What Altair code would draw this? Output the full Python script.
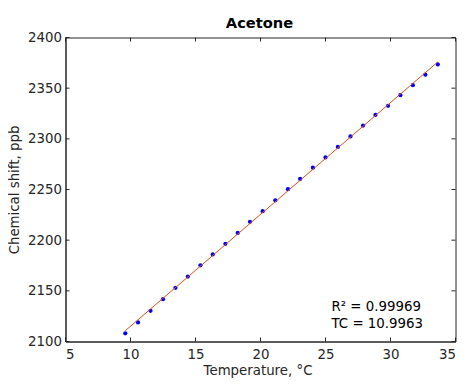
import altair as alt
import pandas as pd

temperature = [9.60, 10.58, 11.54, 12.50, 13.46, 14.41, 15.38, 16.33, 17.30, 18.25,
               19.19, 20.17, 21.14, 22.11, 23.05, 24.03, 25.00, 25.95, 26.92, 27.89,
               28.84, 29.81, 30.76, 31.72, 32.68, 33.64]
shift = [2108.1, 2118.8, 2130.3, 2141.7, 2153.0, 2164.1, 2175.2, 2185.9, 2196.4, 2207.1,
         2218.1, 2228.6, 2239.3, 2250.3, 2260.4, 2271.5, 2281.6, 2292.0, 2302.4, 2313.1,
         2323.6, 2332.6, 2343.1, 2352.9, 2363.3, 2373.4]
x_ticks = [5, 10, 15, 20, 25, 30, 35]
y_ticks = [2100, 2150, 2200, 2250, 2300, 2350, 2400]
title_text = "Acetone"
r2_text = "R² = 0.99969"
tc_text = "TC = 10.9963"

W, H = 390, 304
FONT = "DejaVu Sans"
INK = "#262626"

df = pd.DataFrame({"T": temperature, "shift": shift})
xt = pd.DataFrame({"v": x_ticks})
yt = pd.DataFrame({"v": y_ticks})

xs = alt.Scale(domain=[5, 35], nice=False, zero=False)
ys = alt.Scale(domain=[2100, 2400], nice=False, zero=False)

base = alt.Chart(df)

points = base.mark_circle(size=18, color="#0000FF", opacity=1).encode(
    x=alt.X("T:Q", scale=xs, axis=alt.Axis(
        title="Temperature, °C", values=x_ticks, ticks=False, grid=False, format="d",
        labelPadding=6, titleBaseline="alphabetic", titleY=32.5, titleX=W / 2 - 3)),
    y=alt.Y("shift:Q", scale=ys, axis=alt.Axis(
        title="Chemical shift, ppb", values=y_ticks, ticks=False, grid=False, format="d",
        labelPadding=4, titleBaseline="alphabetic", titleX=-47.5, titleY=H / 2,
        titleAngle=-90)),
)

fit = base.transform_regression("T", "shift").mark_line(
    color="#D95319", strokeWidth=1).encode(
    x=alt.X("T:Q", scale=xs), y=alt.Y("shift:Q", scale=ys))

tick_len = 4
bx = alt.Chart(xt).mark_rule(color=INK, strokeWidth=1).encode(
    x=alt.X("v:Q", scale=xs), y=alt.value(H), y2=alt.value(H - tick_len))
tx = alt.Chart(xt).mark_rule(color=INK, strokeWidth=1).encode(
    x=alt.X("v:Q", scale=xs), y=alt.value(0), y2=alt.value(tick_len))
ly = alt.Chart(yt).mark_rule(color=INK, strokeWidth=1).encode(
    y=alt.Y("v:Q", scale=ys), x=alt.value(0), x2=alt.value(tick_len))
ry = alt.Chart(yt).mark_rule(color=INK, strokeWidth=1).encode(
    y=alt.Y("v:Q", scale=ys), x=alt.value(W), x2=alt.value(W - tick_len))

def note(txt, xpix, ypix, size=13.33, weight="normal", align="left"):
    return alt.Chart(pd.DataFrame({"label": [txt]})).mark_text(
        align=align, baseline="alphabetic", font=FONT, fontSize=size,
        fontWeight=weight, color="#000000"
    ).encode(text="label:N", x=alt.value(xpix), y=alt.value(ypix))

ann1 = note(r2_text, 266, 273)
ann2 = note(tc_text, 266, 290)
ttl = note(title_text, W / 2 - 1, -9.2, size=14.67, weight="bold", align="center")

chart = alt.layer(points, fit, bx, tx, ly, ry, ann1, ann2, ttl).properties(
    width=W, height=H,
    autosize=alt.AutoSizeParams(type="none"),
    padding={"left": 57.5, "top": 29.5, "right": 3, "bottom": 36},
    background="white",
).configure_view(stroke=INK, strokeWidth=1).configure_axis(
    labelFont=FONT, titleFont=FONT, labelFontSize=13.33, titleFontSize=13.33,
    labelColor=INK, titleColor=INK, domainColor=INK, titleFontWeight="normal",
)

chart.save("out.html", embed_options={"renderer": "svg", "actions": False})
